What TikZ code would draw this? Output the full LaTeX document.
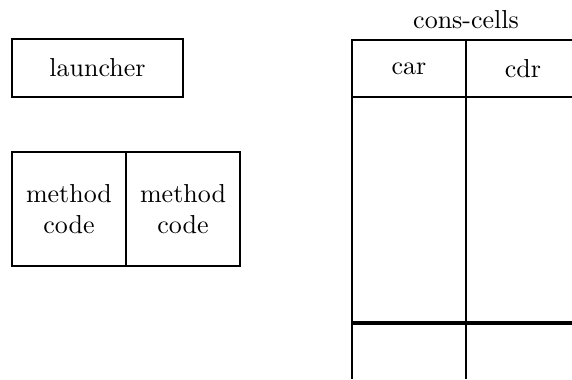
\documentclass[tikz,border=0pt]{standalone}
\usetikzlibrary{positioning}
\tikzset{box/.style={rectangle,draw,thick,inner sep=0pt,outer sep=0pt,align=center},
         codebox/.style={box,minimum width=43.9pt,minimum height=43.9pt},
         consbox/.style={box,minimum width=43.9pt,minimum height=21.9pt},
         label text/.style={rectangle,draw=none,fill=none}
}
\begin{document}
\begin{tikzpicture}[x=0.385pt,y=-0.385pt]
\clip (0,0) rectangle (572,379);
% launcher
\node [box,minimum width=65.8pt,minimum height=22.3pt] (launcher) at (97.5,68) {launcher};
% two method code cells side by side
\node [codebox] (code1) at (69,209) {method\\code};
\node [codebox,right=0pt of code1] (code2) {method\\code};
% cons-cells column
\node [consbox] (car) at (409,68.5) {car};
\node [consbox,right=0pt of car] (cdr) {cdr};
\node [label text,above=1pt of car.north east] (title) {cons-cells};
\coordinate (bottom) at (352,379);
\coordinate (mid) at (352,323);
\draw [thick] (car.south west) -- (car.south west |- bottom);
\draw [thick] (car.south east) -- (car.south east |- bottom);
\draw [line width=1.2pt] (mid) -- (cdr.east |- mid);
\end{tikzpicture}
\end{document}
